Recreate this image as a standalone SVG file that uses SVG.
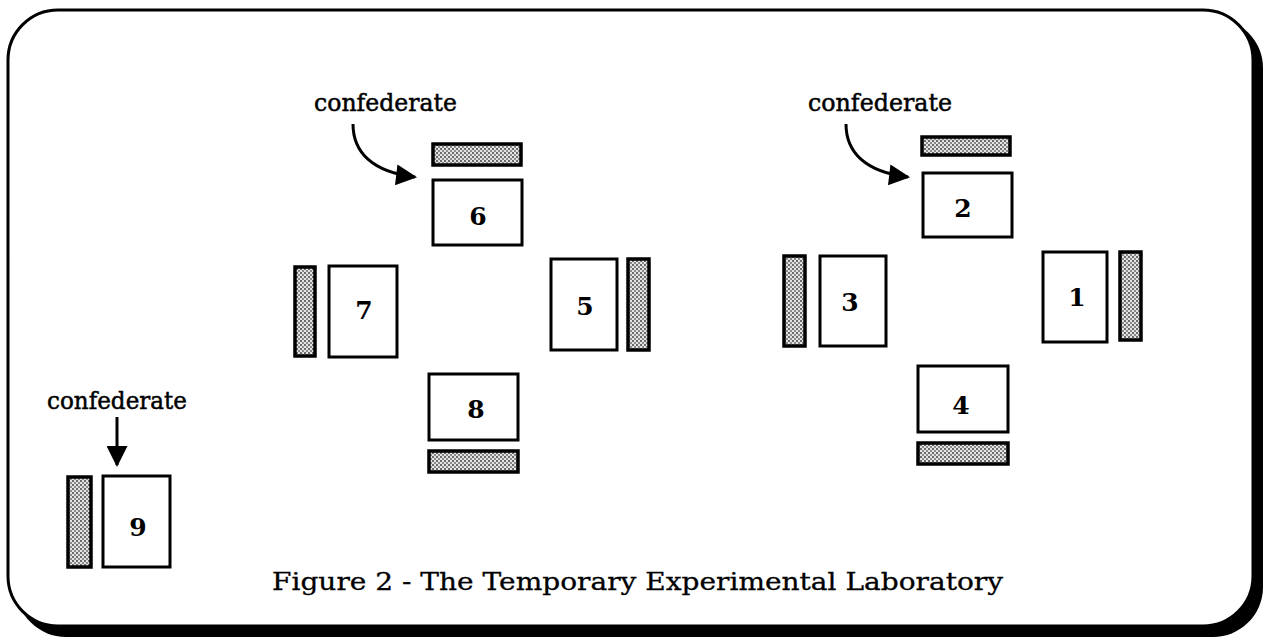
<svg xmlns="http://www.w3.org/2000/svg" width="1265" height="641" viewBox="0 0 1265 641">
<defs>
<pattern id="dots" width="4" height="4" patternUnits="userSpaceOnUse">
<rect width="4" height="4" fill="#e4e4e4"/>
<rect x="0" y="0" width="2" height="2" fill="#6a6a6a"/>
<rect x="2" y="2" width="2" height="2" fill="#8a8a8a"/>
</pattern>
<marker id="ah" viewBox="0 0 10 10" refX="9" refY="5" markerWidth="7.5" markerHeight="7" markerUnits="strokeWidth" orient="auto">
<path d="M0,0 L10,5 L0,10 Z" fill="#000"/>
</marker>
</defs>
<style>
.box{fill:#fff;stroke:#000;stroke-width:3}
.bar{fill:url(#dots);stroke:#000;stroke-width:3.5}
.num{font-family:"DejaVu Serif","Liberation Serif",serif;font-size:25px;font-weight:bold;text-anchor:middle;fill:#000}
.lbl{font-family:"DejaVu Serif","Liberation Serif",serif;font-size:24px;fill:#000;stroke:#000;stroke-width:0.5}
.cap{font-family:"DejaVu Serif","Liberation Serif",serif;font-size:25px;fill:#000;stroke:#000;stroke-width:0.3}
.conn{fill:none;stroke:#000;stroke-width:3}
</style>
<rect x="16" y="18" width="1247" height="619" rx="50" ry="50" fill="#000"/>
<rect x="8" y="10" width="1245" height="616" rx="50" ry="50" fill="#fff" stroke="#000" stroke-width="3"/>

<g id="station6"><rect class="bar" x="433" y="144" width="88" height="21"/><rect class="box" x="433" y="180" width="89" height="65"/><text class="num" x="478" y="225">6</text></g>
<g id="station7"><rect class="bar" x="295" y="267" width="20" height="89"/><rect class="box" x="329" y="266" width="68" height="91"/><text class="num" x="364" y="319">7</text></g>
<g id="station5"><rect class="box" x="551" y="259" width="66" height="91"/><rect class="bar" x="628" y="259" width="21" height="91"/><text class="num" x="585" y="315">5</text></g>
<g id="station8"><rect class="box" x="429" y="374" width="89" height="66"/><rect class="bar" x="429" y="451" width="89" height="21"/><text class="num" x="476" y="418">8</text></g>
<g id="station2"><rect class="bar" x="922" y="137" width="88" height="18"/><rect class="box" x="923" y="173" width="89" height="64"/><text class="num" x="963" y="217">2</text></g>
<g id="station3"><rect class="bar" x="784" y="256" width="21" height="90"/><rect class="box" x="820" y="256" width="66" height="90"/><text class="num" x="850" y="311">3</text></g>
<g id="station1"><rect class="box" x="1043" y="252" width="64" height="90"/><rect class="bar" x="1120" y="252" width="21" height="88"/><text class="num" x="1077" y="306">1</text></g>
<g id="station4"><rect class="box" x="918" y="366" width="90" height="66"/><rect class="bar" x="918" y="443" width="90" height="21"/><text class="num" x="961" y="414">4</text></g>
<g id="station9"><rect class="bar" x="68" y="477" width="23" height="90"/><rect class="box" x="103" y="476" width="67" height="91"/><text class="num" x="138" y="536">9</text></g>

<g id="labels">
<text class="lbl" x="314" y="111" textLength="143" lengthAdjust="spacingAndGlyphs">confederate</text>
<text class="lbl" x="808" y="111" textLength="144" lengthAdjust="spacingAndGlyphs">confederate</text>
<text class="lbl" x="47" y="409" textLength="140" lengthAdjust="spacingAndGlyphs">confederate</text>
<text class="cap" x="272" y="590" textLength="731" lengthAdjust="spacingAndGlyphs">Figure 2 - The Temporary Experimental Laboratory</text>
</g>

<g id="connectors">
<path class="conn" d="M353,124 C353,152 372,172 415,177" marker-end="url(#ah)"/>
<path class="conn" d="M846,124 C846,152 865,172 908,177" marker-end="url(#ah)"/>
<path class="conn" d="M117,417 L117,465" marker-end="url(#ah)"/>
</g>
</svg>
